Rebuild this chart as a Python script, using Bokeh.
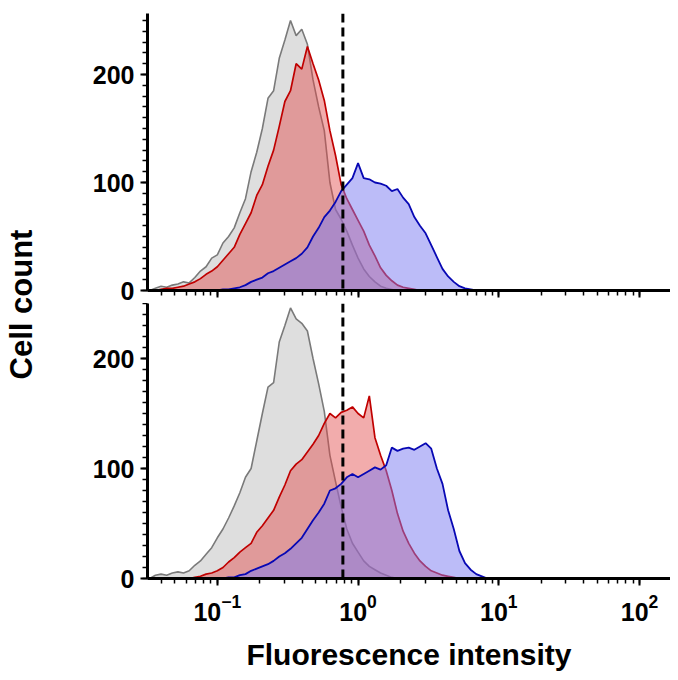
import math
from bokeh.plotting import figure
from bokeh.layouts import row, column
from bokeh.models import Range1d, FixedTicker, Span, Label, CustomJSTickFormatter
from bokeh.embed import file_html
from bokeh.resources import INLINE

# ---- data ----
# histogram channel centres, as log10(fluorescence intensity)
CHANNEL_LOG10 = [
    -1.48, -1.44, -1.40, -1.36, -1.32, -1.28, -1.24, -1.20, -1.16, -1.12,
    -1.08, -1.04, -1.00, -0.96, -0.92, -0.88, -0.84, -0.80, -0.76, -0.72,
    -0.68, -0.64, -0.60, -0.56, -0.52, -0.48, -0.44, -0.40, -0.36, -0.32,
    -0.28, -0.24, -0.20, -0.16, -0.12, -0.08, -0.04, 0.00, 0.04, 0.08,
    0.12, 0.16, 0.20, 0.24, 0.28, 0.32, 0.36, 0.40, 0.44, 0.48,
    0.52, 0.56, 0.60, 0.64, 0.68, 0.72, 0.76, 0.80, 0.84, 0.88,
    0.92,
]

TOP_GREY = [
    0, 2, 4, 3, 5, 6, 8, 7, 12, 18,
    22, 30, 33, 44, 50, 58, 72, 85, 110, 128,
    150, 178, 185, 215, 232, 250, 236, 242, 228, 195,
    170, 148, 100, 75, 66, 55, 42, 30, 20, 13,
    8, 4, 2, 1, 0, 0, 0, 0, 0, 0,
    0, 0, 0, 0, 0, 0, 0, 0, 0, 0,
    0,
]
TOP_RED = [
    0, 0, 1, 2, 2, 3, 4, 6, 8, 11,
    15, 18, 22, 28, 34, 40, 52, 62, 72, 88,
    98, 115, 130, 152, 175, 185, 210, 205, 226, 210,
    195, 176, 148, 125, 98, 85, 75, 65, 55, 42,
    32, 21, 14, 9, 5, 3, 2, 1, 0, 0,
    0, 0, 0, 0, 0, 0, 0, 0, 0, 0,
    0,
]
TOP_BLUE = [
    0, 0, 0, 0, 0, 0, 0, 0, 0, 0,
    0, 0, 0, 1, 1, 2, 3, 5, 8, 10,
    12, 16, 18, 21, 24, 27, 30, 34, 40, 50,
    58, 68, 74, 82, 92, 98, 104, 118, 104, 103,
    100, 99, 97, 92, 94, 86, 80, 68, 60, 53,
    42, 31, 20, 13, 8, 4, 2, 1, 0, 0,
    0,
]

BOTTOM_GREY = [
    0, 3, 4, 3, 5, 6, 5, 7, 12, 16,
    22, 28, 37, 45, 55, 66, 78, 92, 100, 125,
    150, 174, 178, 215, 230, 246, 236, 232, 225, 200,
    177, 152, 112, 88, 65, 45, 32, 24, 16, 11,
    8, 5, 3, 1, 0, 0, 0, 0, 0, 0,
    0, 0, 0, 0, 0, 0, 0, 0, 0, 0,
    0,
]
BOTTOM_RED = [
    0, 0, 0, 0, 0, 0, 0, 0, 1, 2,
    4, 5, 7, 10, 15, 19, 24, 28, 32, 42,
    48, 55, 62, 74, 85, 98, 104, 108, 115, 122,
    130, 141, 150, 146, 151, 153, 156, 150, 146, 166,
    128, 112, 98, 80, 59, 43, 32, 23, 16, 11,
    7, 5, 3, 2, 1, 0, 0, 0, 0, 0,
    0,
]
BOTTOM_BLUE = [
    0, 0, 0, 0, 0, 0, 0, 0, 0, 0,
    0, 0, 0, 0, 1, 1, 3, 4, 7, 9,
    11, 13, 16, 20, 23, 27, 32, 37, 45, 53,
    60, 68, 80, 82, 86, 92, 95, 92, 95, 98,
    101, 99, 103, 119, 116, 118, 119, 117, 120, 123,
    118, 100, 86, 62, 45, 25, 14, 8, 4, 2,
    0,
]

GATE_INTENSITY = 0.78
Y_TICKS = [0, 100, 200]
Y_MINOR_TICKS = [0, 10, 20, 30, 40, 50, 60, 70, 80, 90, 100, 110, 120, 130,
                 140, 150, 160, 170, 180, 190, 200, 210, 220, 230, 240, 250]
X_LIMITS = (0.0319, 166.0)
TOP_YMAX = 256.5
BOTTOM_YMAX = 250.0

X_LABEL = "Fluorescence intensity"
Y_LABEL = "Cell count"

FONT = "Liberation Sans"
GREY_LINE, GREY_FILL = "#7a7a7a", "#9a9a9a"
RED_LINE, RED_FILL = "#c00000", "#e24848"
BLUE_LINE, BLUE_FILL = "#0808b4", "#7979f1"

intensity = [10 ** v for v in CHANNEL_LOG10]


def style_axes(p):
    for ax in (p.xaxis[0], p.yaxis[0]):
        ax.axis_line_width = 3
        ax.axis_line_color = "black"
        ax.major_tick_line_width = 2
        ax.minor_tick_line_width = 1.5
        ax.major_tick_in = 0
        ax.minor_tick_in = 0
        ax.major_tick_out = 7
        ax.minor_tick_out = 5
        ax.major_label_text_font = FONT
        ax.major_label_text_font_style = "bold"
        ax.major_label_text_color = "black"
    p.yaxis[0].ticker = FixedTicker(ticks=Y_TICKS, minor_ticks=Y_MINOR_TICKS)
    p.yaxis[0].major_label_text_font_size = "25px"
    p.yaxis[0].major_label_standoff = 6
    p.xgrid.visible = False
    p.ygrid.visible = False
    p.outline_line_color = None


def panel(grey, red, blue, ymax, frame_h, bottom):
    p = figure(
        x_axis_type="log",
        x_range=Range1d(*X_LIMITS),
        y_range=Range1d(0, ymax),
        frame_width=523,
        frame_height=frame_h,
        min_border_left=99,
        min_border_right=0,
        min_border_top=0 if bottom else 13,
        min_border_bottom=0 if bottom else 13,
        output_backend="svg",
        toolbar_location=None,
        background_fill_color="white",
        border_fill_color="white",
    )
    for counts, lc, fc, fa, lw in ((grey, GREY_LINE, GREY_FILL, 0.33, 1.6),
                                   (red, RED_LINE, RED_FILL, 0.45, 1.7),
                                   (blue, BLUE_LINE, BLUE_FILL, 0.5, 1.8)):
        p.varea(x=intensity, y1=[0] * len(counts), y2=counts,
                fill_color=fc, fill_alpha=fa)
        p.line(x=intensity, y=counts, line_color=lc, line_width=lw)
    p.add_layout(Span(location=GATE_INTENSITY, dimension="height",
                      line_color="black", line_width=3, line_dash="9 5"))
    style_axes(p)
    if bottom:
        p.xaxis[0].major_label_text_font_size = "25px"
        p.xaxis[0].major_label_standoff = 8
        p.xaxis[0].axis_label = X_LABEL
        p.xaxis[0].axis_label_text_font = FONT
        p.xaxis[0].axis_label_text_font_style = "bold"
        p.xaxis[0].axis_label_text_font_size = "30px"
        p.xaxis[0].axis_label_text_color = "black"
        p.xaxis[0].axis_label_standoff = 14
    else:
        p.xaxis[0].formatter = CustomJSTickFormatter(code="return '';")
        p.xaxis[0].major_label_text_font_size = "10px"
        p.xaxis[0].major_label_standoff = 0
    return p


top = panel(TOP_GREY, TOP_RED, TOP_BLUE, TOP_YMAX, 277, False)
bot = panel(BOTTOM_GREY, BOTTOM_RED, BOTTOM_BLUE, BOTTOM_YMAX, 275, True)

TOTAL_H = 665
lab = figure(
    x_range=Range1d(0, 48), y_range=Range1d(0, TOTAL_H),
    frame_width=48, frame_height=TOTAL_H,
    min_border=0, output_backend="svg", toolbar_location=None,
)
lab.axis.visible = False
lab.xgrid.visible = False
lab.ygrid.visible = False
lab.outline_line_color = None
lab.add_layout(Label(
    x=21, y=TOTAL_H - 304, text=Y_LABEL, angle=math.pi / 2,
    text_align="center", text_baseline="middle",
    text_font=FONT, text_font_style="bold", text_font_size="31px",
    text_color="black",
))

layout = row(lab, column(top, bot, spacing=0), spacing=0)
open("out.html", "w").write(file_html(layout, INLINE))
